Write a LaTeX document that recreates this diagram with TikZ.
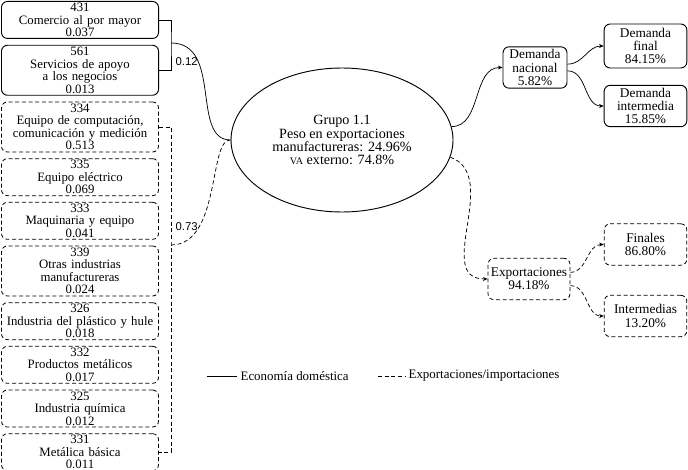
\documentclass[tikz,border=0pt]{standalone}
\usepackage{fontspec}
\setmainfont{Liberation Serif}
\newfontfamily\lblfont{Liberation Sans}
\usepackage{tikz}
\usetikzlibrary{arrows.meta,positioning,shapes.geometric}

\begin{document}
\begin{tikzpicture}[
  x=0.75pt, y=-0.75pt,
  node distance=4.4pt,
  font=\fontsize{9.6}{9.3}\selectfont,
  dom/.style={draw, rounded corners=4.5pt, align=center, text width=113pt,
    inner xsep=2.4pt, inner ysep=0pt, minimum height=27.75pt, line width=0.7pt},
  ext/.style={dom, dash pattern=on 3pt off 2pt, line width=0.6pt},
  tall/.style={minimum height=37.5pt},
  rbox/.style={draw, rounded corners=4.5pt, align=center, inner sep=0pt,
    minimum height=31pt, line width=0.7pt, font=\fontsize{10}{10}\selectfont},
  rext/.style={rbox, dash pattern=on 3pt off 2pt, line width=0.6pt},
  lnk/.style={line width=0.55pt},
  xlnk/.style={lnk, dash pattern=on 3pt off 2pt},
  arr/.style={-{Stealth[length=3.5pt,width=3pt]}},
  val/.style={font=\lblfont\fontsize{8.5}{9}\selectfont, inner sep=1pt},
  lgd/.style={anchor=west, inner xsep=2.5pt, inner ysep=1pt, font=\fontsize{9.7}{10}\selectfont}
]
\useasboundingbox (0,0) rectangle (688,470);

% columna de industrias
\node[dom, anchor=north] (c431) at (80,1) {431\\Comercio al por mayor\\0.037};
\node[dom, tall, below=of c431] (c561) {561\\Servicios de apoyo\\a los negocios\\0.013};
\node[ext, tall, below=of c561] (c334) {334\\Equipo de computación,\\comunicación y medición\\0.513};
\node[ext, below=of c334] (c335) {335\\Equipo eléctrico\\0.069};
\node[ext, below=of c335] (c333) {333\\Maquinaria y equipo\\0.041};
\node[ext, tall, below=of c333] (c339) {339\\Otras industrias\\manufactureras\\0.024};
\node[ext, below=of c339] (c326) {326\\Industria del plástico y hule\\0.018};
\node[ext, below=of c326] (c332) {332\\Productos metálicos\\0.017};
\node[ext, below=of c332] (c325) {325\\Industria química\\0.012};
\node[ext, below=of c325] (c331) {331\\Metálica básica\\0.011};

% grupo
\node[draw, ellipse, line width=0.7pt, minimum width=166.5pt, minimum height=108pt,
  align=center, font=\fontsize{10.6}{9.8}\selectfont] (grp) at (342,140)
  {Grupo 1.1\\Peso en exportaciones\\manufactureras: 24.96\%\\{\fontsize{7.6}{9}\selectfont VA} externo: 74.8\%};

% destinos
\node[rbox, minimum width=48pt] (dnac) at (535,67.5) {Demanda\\nacional\\5.82\%};
\node[rbox, minimum width=62pt, minimum height=33pt] (dfin) at (645.5,46) {Demanda\\final\\84.15\%};
\node[rbox, minimum width=62pt] (dint) at (645.5,106) {Demanda\\intermedia\\15.85\%};
\node[rext, minimum width=61.5pt] (expo) at (529,279) {Exportaciones\\94.18\%};
\node[rext, minimum width=62pt] (fina) at (645.5,244.5) {Finales\\86.80\%};
\node[rext, minimum width=62pt] (inte) at (645.5,316) {Intermedias\\13.20\%};

% corchetes
\coordinate (j1) at (171,43);
\coordinate (j2) at (171,245);
\draw[lnk] (c431.east) -| (j1) |- (c561.east);
\draw[xlnk] (c334.east) -| (j2) |- (c331.east);
\node[val, anchor=west] (v12) at (174,62) {0.12};
\node[val, anchor=west] (v73) at (174,227) {0.73};

\draw[lnk] (j1) .. controls +(52,0) and +(-40,0) .. (grp.west);
\draw[xlnk] (j2) .. controls +(50,0) and +(-22,-2) .. (grp.west);

\draw[lnk, arr] (grp.7) to[out=0, in=180] (dnac.west);
\draw[lnk, arr] ([yshift=2.5pt]dnac.east) to[out=0, in=180] (dfin.west);
\draw[lnk, arr] ([yshift=-2.5pt]dnac.east) to[out=0, in=180] (dint.west);
\draw[xlnk, arr] (grp.-9) to[out=-20, in=180, looseness=1.1] (expo.west);
\draw[xlnk, arr] ([yshift=5pt]expo.east) to[out=0, in=180] (fina.west);
\draw[xlnk, arr] ([yshift=-5pt]expo.east) to[out=0, in=180] (inte.west);

% leyenda
\node[lgd] (lg1) at (237,376) {Economía doméstica};
\node[lgd] (lg2) at (405,376) {Exportaciones/importaciones};
\coordinate (l1) at (207,376);
\coordinate (l2) at (378,376);
\draw[lnk] (l1) -- (lg1.west);
\draw[xlnk] (l2) -- (lg2.west);
\end{tikzpicture}
\end{document}
